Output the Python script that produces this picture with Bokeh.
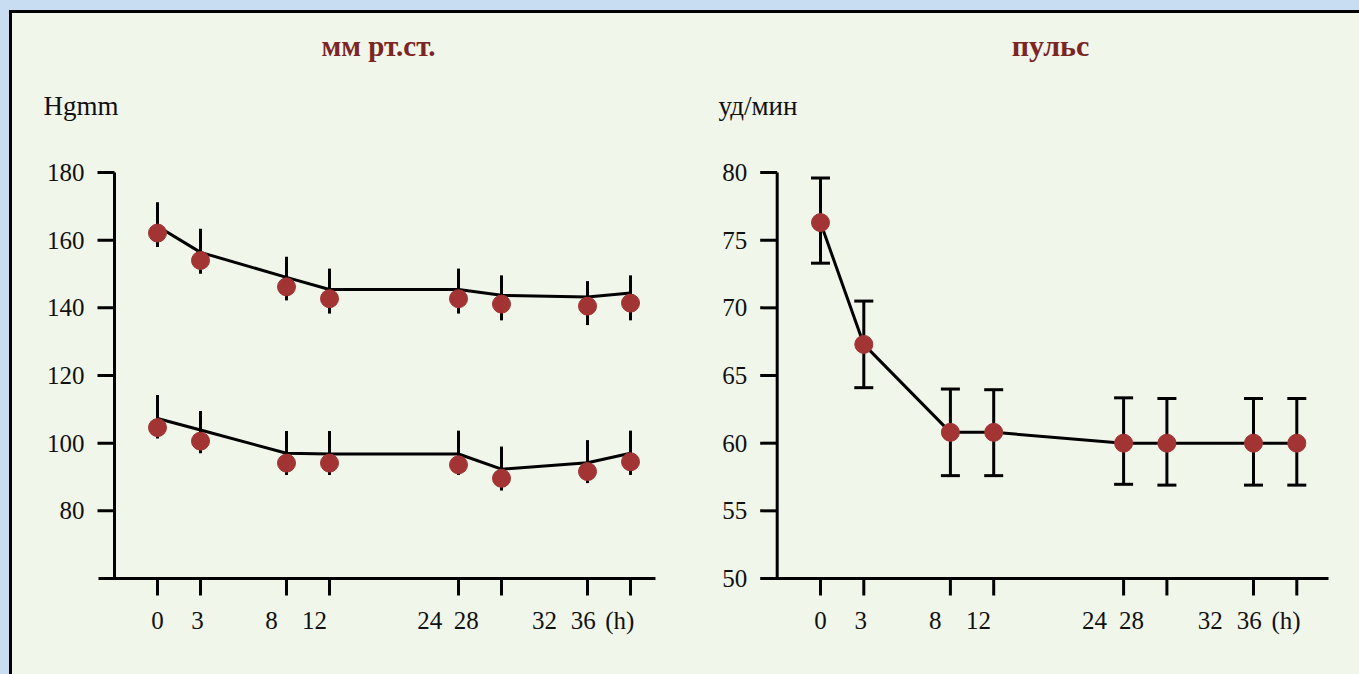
import numpy as np
from bokeh.plotting import figure
from bokeh.models import Range1d, Label, Whisker, TeeHead, ColumnDataSource
from bokeh.core.properties import value
from bokeh.layouts import row
from bokeh.embed import file_html
from bokeh.resources import INLINE

# ---- data ----
tick_pos = [0, 1, 3, 4, 7, 8, 10, 11]
label_pos = [0, 0.93, 2.65, 3.65, 6.33, 7.18, 9.0, 9.9, 10.75]
hour_labels = ["0", "3", "8", "12", "24", "28", "32", "36", "(h)"]

sys_line = [164.1, 156.4, 149.0, 145.4, 145.4, 143.7, 143.2, 144.4]
sys_dot = [162.1, 154.0, 146.2, 142.7, 142.7, 141.1, 140.5, 141.4]
sys_hi = [171.2, 163.4, 155.1, 151.6, 151.6, 149.6, 147.9, 149.6]
sys_lo = [158.0, 150.1, 142.2, 138.3, 138.3, 136.3, 134.9, 136.3]

dia_line = [107.3, 103.9, 97.0, 96.8, 96.8, 92.3, 94.2, 97.0]
dia_dot = [104.6, 100.6, 94.1, 94.1, 93.6, 89.6, 91.6, 94.5]
dia_hi = [114.2, 109.5, 103.6, 103.6, 103.7, 99.0, 100.9, 103.7]
dia_lo = [101.4, 97.0, 90.6, 90.6, 90.6, 86.0, 88.2, 90.6]

pulse = [76.3, 67.3, 60.8, 60.8, 60.0, 60.0, 60.0, 60.0]
pulse_hi = [79.6, 70.5, 64.0, 63.95, 63.35, 63.3, 63.3, 63.3]
pulse_lo = [73.3, 64.1, 57.6, 57.6, 56.96, 56.9, 56.9, 56.9]

bp_ticks = [80, 100, 120, 140, 160, 180]
pulse_ticks = [50, 55, 60, 65, 70, 75, 80]

BG = "#f0f6ea"
DOT = "#a33434"
TITLE_C = "#7b2525"
INK = "#111111"
FONT = "Liberation Serif"
FS = "25px"
AXIS_X = -1  # x position (data) of the vertical axis


def make_panel(width, xr, x_axis_start, x_axis_end, yr, y_base, yticks):
    p = figure(width=width, height=661, x_range=Range1d(*xr), y_range=Range1d(*yr),
               output_backend="svg", toolbar_location=None,
               x_axis_location=None, y_axis_location=None,
               min_border_left=0, min_border_right=0, min_border_top=0, min_border_bottom=0)
    p.background_fill_color = BG
    p.border_fill_color = BG
    p.outline_line_color = None
    p.grid.visible = False

    # horizontal axis: line, downward ticks, hour labels
    p.segment(x0=x_axis_start, y0=y_base, x1=x_axis_end, y1=y_base, line_width=3, line_color="black")
    p.ray(x=tick_pos, y=[y_base] * len(tick_pos), length=17, length_units="screen",
          angle=-np.pi / 2, line_width=3, line_color="black")
    p.text(x=label_pos, y=[y_base] * len(label_pos), text=hour_labels, y_offset=42,
           text_align="center", text_baseline="middle", text_font=value(FONT),
           text_font_size=value(FS), text_color=INK)

    # vertical axis: line, outward ticks and labels
    p.segment(x0=AXIS_X, y0=y_base, x1=AXIS_X, y1=yticks[-1], line_width=3, line_color="black")
    p.ray(x=[AXIS_X] * len(yticks), y=yticks, length=17, length_units="screen", angle=np.pi,
          line_width=3, line_color="black")
    p.text(x=[AXIS_X] * len(yticks), y=yticks, text=[str(t) for t in yticks], x_offset=-30,
           text_align="right", text_baseline="middle", text_font=value(FONT),
           text_font_size=value(FS), text_color=INK)
    return p


# ---- left panel: blood pressure ----
p1 = make_panel(690, (-3.372, 12.674), -1.372, 11.581, (31.62, 227.0), 60, bp_ticks)
for line_v, dot_v, hi_v, lo_v in [(sys_line, sys_dot, sys_hi, sys_lo),
                                  (dia_line, dia_dot, dia_hi, dia_lo)]:
    src = ColumnDataSource(dict(x=tick_pos, line=line_v, dot=dot_v, hi=hi_v, lo=lo_v))
    p1.segment(x0="x", y0="lo", x1="x", y1="hi", source=src, line_width=3, line_color="black")
    p1.line("x", "line", source=src, line_width=3, line_color="black", line_join="round")
    p1.scatter("x", "dot", source=src, size=18, fill_color=DOT, line_color=DOT)

p1.add_layout(Label(x=5.14, y=217.5, text="мм рт.ст.", text_align="center", text_baseline="middle",
                    text_font=FONT, text_font_size="29px", text_font_style="bold", text_color=TITLE_C))
p1.add_layout(Label(x=-2.65, y=199.8, text="Hgmm", text_align="left", text_baseline="middle",
                    text_font=FONT, text_font_size="27px", text_color=INK))

# ---- right panel: pulse ----
p2 = make_panel(657, (-2.725, 12.448), -1.339, 11.732, (42.906, 91.75), 50, pulse_ticks)
src2 = ColumnDataSource(dict(x=tick_pos, y=pulse, hi=pulse_hi, lo=pulse_lo))
p2.add_layout(Whisker(base="x", upper="hi", lower="lo", source=src2, line_width=3, line_color="black",
                      upper_head=TeeHead(size=19, line_width=3, line_color="black"),
                      lower_head=TeeHead(size=19, line_width=3, line_color="black")))
p2.line("x", "y", source=src2, line_width=3, line_color="black", line_join="round")
p2.scatter("x", "y", source=src2, size=18, fill_color=DOT, line_color=DOT)

p2.add_layout(Label(x=5.31, y=89.4, text="пульс", text_align="center", text_baseline="middle",
                    text_font=FONT, text_font_size="30px", text_font_style="bold", text_color=TITLE_C))
p2.add_layout(Label(x=-2.356, y=84.9, text="уд/мин", text_align="left", text_baseline="middle",
                    text_font=FONT, text_font_size="27px", text_color=INK))

layout = row(p1, p2, styles={"border-top": "3px solid black", "border-left": "3px solid black",
                             "background-color": BG})

html = file_html(layout, INLINE)
page_css = ("<style>html {margin: 0 !important; padding: 0 !important; background: #c9ddf2 !important;}"
            " body {box-sizing: border-box !important; padding: 10px 0 0 9px !important;"
            " margin: 0 !important; background: #c9ddf2 !important; overflow: hidden;}</style>")
html = html.replace("</head>", page_css + "</head>", 1)
open("out.html", "w").write(html)
